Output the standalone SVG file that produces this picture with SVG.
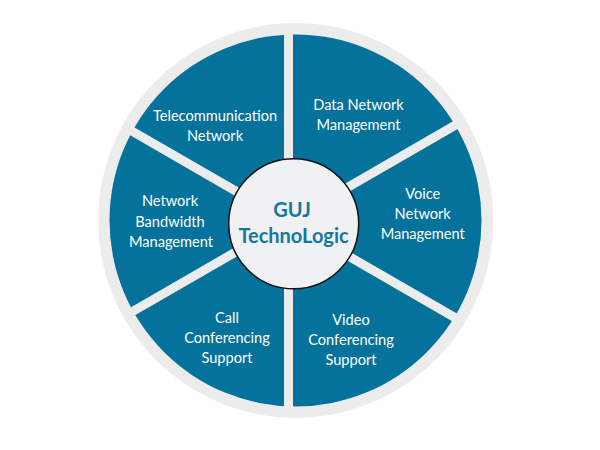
<svg xmlns="http://www.w3.org/2000/svg" width="600" height="450" viewBox="0 0 600 450">
<style>
.wedge{fill:#04729a}
.lbl{font-family:Lato,"Liberation Sans",sans-serif;font-size:14.6px;fill:#ffffff;text-anchor:middle}
.title{font-family:Lato,"Liberation Sans",sans-serif;font-size:20px;font-weight:bold;fill:#17779f;text-anchor:middle}
</style>
<defs>
<clipPath id="disc"><circle cx="295.5" cy="220.5" r="186"/></clipPath>
</defs>
<rect width="600" height="450" fill="#ffffff"/>
<circle id="ring" cx="295.7" cy="220.4" r="197.5" fill="#ececec"/>
<g clip-path="url(#disc)">
<g id="data-network">
<path class="wedge" d="M293,213.71 L293,-46.29 L518.17,83.71 Z"/>
</g>
<g id="voice-network">
<path class="wedge" d="M297.5,221.5 L522.67,91.5 L522.67,351.5 Z"/>
</g>
<g id="video-conferencing">
<path class="wedge" d="M293,229.29 L518.17,359.29 L293,489.29 Z"/>
</g>
<g id="call-conferencing">
<path class="wedge" d="M284,229.29 L284,489.29 L58.83,359.29 Z"/>
</g>
<g id="network-bandwidth">
<path class="wedge" d="M279.5,221.5 L54.33,351.5 L54.33,91.5 Z"/>
</g>
<g id="telecommunication">
<path class="wedge" d="M284,213.71 L58.83,83.71 L284,-46.29 Z"/>
</g>
</g>
<g id="labels">
<text class="lbl" x="358.5" y="110">Data Network</text>
<text class="lbl" x="358.5" y="130">Management</text>
<text class="lbl" x="422.7" y="199">Voice</text>
<text class="lbl" x="422.7" y="219">Network</text>
<text class="lbl" x="422.7" y="239">Management</text>
<text class="lbl" x="351" y="325">Video</text>
<text class="lbl" x="351" y="345">Conferencing</text>
<text class="lbl" x="351" y="365">Support</text>
<text class="lbl" x="227" y="323">Call</text>
<text class="lbl" x="227" y="343">Conferencing</text>
<text class="lbl" x="227" y="363">Support</text>
<text class="lbl" x="170" y="206">Network</text>
<text class="lbl" x="170" y="226.5">Bandwidth</text>
<text class="lbl" x="171" y="246.5">Management</text>
<text class="lbl" x="215" y="121">Telecommunication</text>
<text class="lbl" x="215" y="141">Network</text>
</g>
<g id="center">
<circle cx="293.7" cy="223.8" r="65" fill="#eff1f3" stroke="#111111" stroke-width="1.5"/>
<text class="title" x="292" y="217">GUJ</text>
<text class="title" x="293.5" y="243">TechnoLogic</text>
</g>
</svg>
